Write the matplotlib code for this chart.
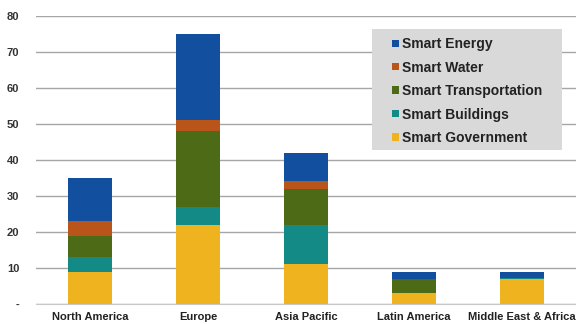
import numpy as np
import matplotlib.pyplot as plt
from matplotlib.patches import Rectangle

plt.rcParams["font.family"] = ["Liberation Sans", "DejaVu Sans"]

regions = ["North America", "Europe", "Asia Pacific", "Latin America", "Middle East & Africa"]

# segment values per region, stacked bottom to top
government = [9, 22, 11, 3, 7]
buildings = [4, 5, 11, 0, 0.3]
transportation = [6, 21, 10, 4, 0]
water = [4, 3, 2, 0, 0]
energy = [12, 24, 8, 2, 1.7]

series = [
    ("Smart Government", government, "#efb320"),
    ("Smart Buildings", buildings, "#138a85"),
    ("Smart Transportation", transportation, "#4d6b16"),
    ("Smart Water", water, "#b9541a"),
    ("Smart Energy", energy, "#134f9f"),
]

y_ticks = [0, 10, 20, 30, 40, 50, 60, 70, 80]
y_labels = ["-", "10", "20", "30", "40", "50", "60", "70", "80"]

fig = plt.figure(figsize=(5.76, 3.24), dpi=100)
ax = fig.add_axes([0.0625, 0.062, 0.9375, 0.889])

x = np.arange(len(regions))
bottom = np.zeros(len(regions))
handles = {}
for name, vals, color in series:
    b = ax.bar(x, vals, width=0.4, bottom=bottom, color=color, zorder=3)
    handles[name] = b
    bottom += np.array(vals)

ax.set_xlim(-0.5, len(regions) - 0.5)
ax.set_ylim(0, 80)
ax.set_yticks(y_ticks)
ax.set_yticklabels(y_labels, fontsize=8, fontweight="bold", color="#333333")
ax.set_xticks(x)
ax.set_xticklabels(regions, fontsize=8, fontweight="bold", color="#222222")
ax.tick_params(axis="both", length=0, pad=6)
ax.tick_params(axis="y", pad=12)

ax.grid(axis="y", color="#a6a6a6", linewidth=1, zorder=0)
for s in ["top", "right", "left"]:
    ax.spines[s].set_visible(False)
ax.spines["bottom"].set_color("#c8c8c8")

# grey legend panel, wider than the legend's own frame
ax.add_patch(Rectangle((0.622, 0.535), 0.352, 0.42, transform=ax.transAxes,
                       facecolor="#d9d9d9", edgecolor="none", zorder=4))

order = ["Smart Energy", "Smart Water", "Smart Transportation", "Smart Buildings", "Smart Government"]
leg = ax.legend([handles[n] for n in order], order,
                loc="upper left", bbox_to_anchor=(0.66, 0.926), borderaxespad=0,
                frameon=False, handlelength=0.45, handleheight=0.45, handletextpad=0.25,
                labelspacing=0.68, borderpad=0,
                prop={"size": 10, "weight": "bold"})
leg.set_zorder(5)
for t in leg.get_texts():
    t.set_color("#222222")

fig.savefig("out.png", dpi=100)
